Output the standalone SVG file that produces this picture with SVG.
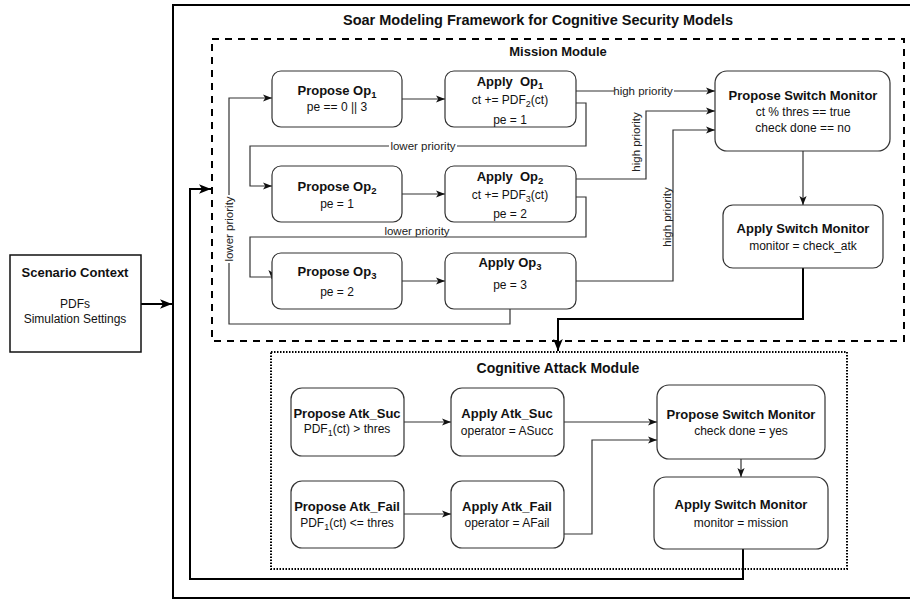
<svg xmlns="http://www.w3.org/2000/svg" width="910" height="601" viewBox="0 0 910 601">
  <style>
    text { font-family: "Liberation Sans", Arial, sans-serif; fill: #111; }
    .t { font-size: 13px; font-weight: bold; text-anchor: middle; }
    .b { font-size: 12px; text-anchor: middle; }
    .lbl { font-size: 11.5px; text-anchor: middle; fill: #222; }
    .hdr { font-size: 13px; font-weight: bold; text-anchor: middle; }
    .big { font-size: 14.5px; }
    .mid { font-size: 14px; }
    .node { fill: #fff; stroke: #333; stroke-width: 1.2; }
    .edge { fill: none; stroke: #333; stroke-width: 1.2; marker-end: url(#arr); }
    .thick { fill: none; stroke: #000; stroke-width: 2; }
    .bg { fill: #fff; }
  </style>
  <defs>
    <marker id="arr" viewBox="0 0 10 10" refX="10" refY="5" markerWidth="9" markerHeight="9" markerUnits="userSpaceOnUse" orient="auto">
      <path d="M0,1 L10,5 L0,9 L2.5,5 z" fill="#111"/>
    </marker>
    <marker id="arrBig" viewBox="0 0 10 10" refX="10" refY="5" markerWidth="12" markerHeight="12" markerUnits="userSpaceOnUse" orient="auto">
      <path d="M0,1 L10,5 L0,9 L2.5,5 z" fill="#000"/>
    </marker>
  </defs>

  <!-- outer framework frame -->
  <rect x="173" y="5" width="740" height="593" fill="none" stroke="#000" stroke-width="2"/>
  <text class="hdr big" x="538" y="25">Soar Modeling Framework for Cognitive Security Models</text>

  <!-- mission module container -->
  <rect x="212" y="39" width="692" height="302" fill="none" stroke="#000" stroke-width="2" stroke-dasharray="7 6"/>
  <text class="hdr" x="558" y="56">Mission Module</text>

  <!-- cognitive attack module container -->
  <rect x="271" y="352" width="576" height="217" fill="none" stroke="#000" stroke-width="2" stroke-dasharray="1.5 1.5"/>
  <text class="hdr mid" x="558" y="373">Cognitive Attack Module</text>

  <!-- connectors -->
  <g id="connectors">
    <!-- scenario into framework -->
    <path class="thick" d="M141,304 L172,304" marker-end="url(#arrBig)"/>
    <!-- mission to attack module -->
    <path class="thick" d="M803,268 L803,319 L558,319 L558,351" marker-end="url(#arrBig)"/>
    <!-- attack module back to mission -->
    <path class="thick" d="M743,549 L743,579 L190,579 L190,189 L211,189" marker-end="url(#arrBig)"/>

    <!-- propose to apply -->
    <path class="edge" d="M402,99 L445,99"/>
    <path class="edge" d="M402,194 L445,194"/>
    <path class="edge" d="M402,281 L445,281"/>

    <!-- lower priority chains -->
    <path class="edge" d="M576,103 L586,103 L586,146 L250,146 L250,186 L272,186"/>
    <rect class="bg" x="389" y="139" width="68" height="13"/>
    <text class="lbl" x="423" y="150">lower priority</text>

    <path class="edge" d="M576,197 L586,197 L586,237 L250,237 L250,277 L272,277 L272,279"/>
    <rect class="bg" x="383" y="226" width="68" height="10"/>
    <text class="lbl" x="417" y="235">lower priority</text>

    <path class="edge" d="M510,309 L510,324 L229,324 L229,98 L272,98"/>
    <rect class="bg" x="222" y="195" width="14" height="68"/>
    <text class="lbl" transform="translate(233,229) rotate(-90)">lower priority</text>

    <!-- high priority to switch monitor -->
    <path class="edge" d="M576,91 L715,91"/>
    <rect class="bg" x="614" y="85" width="60" height="12"/>
    <text class="lbl" x="643" y="95">high priority</text>

    <path class="edge" d="M576,179 L646,179 L646,111 L715,111"/>
    <text class="lbl" transform="translate(640,142) rotate(-90)">high priority</text>

    <path class="edge" d="M576,281 L673,281 L673,130 L715,130"/>
    <text class="lbl" transform="translate(671,217) rotate(-90)">high priority</text>

    <path class="edge" d="M803,151 L803,205"/>

    <!-- attack module edges -->
    <path class="edge" d="M404,422 L451,422"/>
    <path class="edge" d="M404,514 L451,514"/>
    <path class="edge" d="M564,422 L657,422"/>
    <path class="edge" d="M564,534 L592,534 L592,440 L657,440"/>
    <path class="edge" d="M741,459 L741,477"/>
  </g>

  <!-- scenario context -->
  <g id="scenario">
    <rect x="10" y="255" width="131" height="97" fill="#fff" stroke="#111" stroke-width="1.5"/>
    <text class="t" x="75" y="277">Scenario Context</text>
    <text class="b" x="75" y="308">PDFs</text>
    <text class="b" x="75" y="323">Simulation Settings</text>
  </g>

  <!-- mission nodes -->
  <g id="propose-op1">
    <rect class="node" x="272" y="71" width="130" height="56" rx="9"/>
    <text class="t" x="337" y="95">Propose Op<tspan font-size="9.5" dy="3">1</tspan></text>
    <text class="b" x="337" y="111">pe == 0 || 3</text>
  </g>
  <g id="apply-op1">
    <rect class="node" x="445" y="71" width="131" height="56" rx="9"/>
    <text class="t" x="510" y="86" xml:space="preserve">Apply  Op<tspan font-size="9.5" dy="3">1</tspan></text>
    <text class="b" x="510" y="104">ct += PDF<tspan font-size="9" dy="3">2</tspan><tspan dy="-3">(ct)</tspan></text>
    <text class="b" x="510" y="124">pe = 1</text>
  </g>
  <g id="propose-op2">
    <rect class="node" x="272" y="166" width="130" height="56" rx="9"/>
    <text class="t" x="337" y="191">Propose Op<tspan font-size="9.5" dy="3">2</tspan></text>
    <text class="b" x="337" y="208">pe = 1</text>
  </g>
  <g id="apply-op2">
    <rect class="node" x="445" y="166" width="131" height="56" rx="9"/>
    <text class="t" x="510" y="181" xml:space="preserve">Apply  Op<tspan font-size="9.5" dy="3">2</tspan></text>
    <text class="b" x="510" y="199">ct += PDF<tspan font-size="9" dy="3">3</tspan><tspan dy="-3">(ct)</tspan></text>
    <text class="b" x="510" y="218">pe = 2</text>
  </g>
  <g id="propose-op3">
    <rect class="node" x="272" y="253" width="130" height="56" rx="9"/>
    <text class="t" x="337" y="276">Propose Op<tspan font-size="9.5" dy="3">3</tspan></text>
    <text class="b" x="337" y="296">pe = 2</text>
  </g>
  <g id="apply-op3">
    <rect class="node" x="445" y="253" width="131" height="56" rx="9"/>
    <text class="t" x="510" y="267">Apply Op<tspan font-size="9.5" dy="3">3</tspan></text>
    <text class="b" x="510" y="289">pe = 3</text>
  </g>
  <g id="propose-switch-mission">
    <rect class="node" x="715" y="71" width="175" height="80" rx="12"/>
    <text class="t" x="803" y="100">Propose Switch Monitor</text>
    <text class="b" x="803" y="116">ct % thres == true</text>
    <text class="b" x="803" y="132">check done == no</text>
  </g>
  <g id="apply-switch-mission">
    <rect class="node" x="723" y="205" width="160" height="63" rx="10"/>
    <text class="t" x="803" y="233">Apply Switch Monitor</text>
    <text class="b" x="803" y="250">monitor = check_atk</text>
  </g>

  <!-- attack nodes -->
  <g id="propose-atk-suc">
    <rect class="node" x="291" y="388" width="113" height="68" rx="11"/>
    <text class="t" x="347" y="418">Propose Atk_Suc</text>
    <text class="b" x="347" y="433">PDF<tspan font-size="9" dy="3">1</tspan><tspan dy="-3">(ct) &gt; thres</tspan></text>
  </g>
  <g id="apply-atk-suc">
    <rect class="node" x="451" y="388" width="113" height="68" rx="11"/>
    <text class="t" x="507" y="418">Apply Atk_Suc</text>
    <text class="b" x="507" y="435">operator = ASucc</text>
  </g>
  <g id="propose-atk-fail">
    <rect class="node" x="291" y="481" width="113" height="67" rx="11"/>
    <text class="t" x="347" y="511">Propose Atk_Fail</text>
    <text class="b" x="347" y="527">PDF<tspan font-size="9" dy="3">1</tspan><tspan dy="-3">(ct) &lt;= thres</tspan></text>
  </g>
  <g id="apply-atk-fail">
    <rect class="node" x="451" y="481" width="113" height="67" rx="11"/>
    <text class="t" x="507" y="511">Apply Atk_Fail</text>
    <text class="b" x="507" y="527">operator = AFail</text>
  </g>
  <g id="propose-switch-attack">
    <rect class="node" x="657" y="385" width="168" height="74" rx="12"/>
    <text class="t" x="741" y="419">Propose Switch Monitor</text>
    <text class="b" x="741" y="435">check done = yes</text>
  </g>
  <g id="apply-switch-attack">
    <rect class="node" x="654" y="477" width="174" height="72" rx="12"/>
    <text class="t" x="741" y="509">Apply Switch Monitor</text>
    <text class="b" x="741" y="527">monitor = mission</text>
  </g>
</svg>
